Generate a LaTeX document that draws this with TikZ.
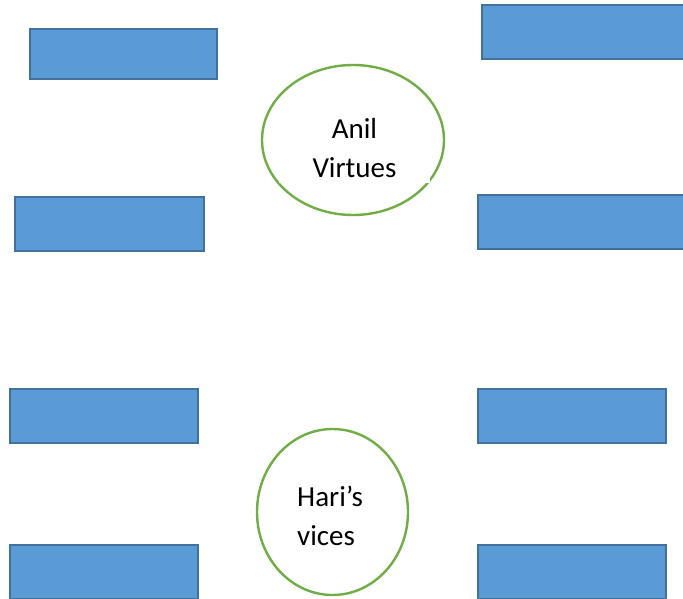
\documentclass[tikz,border=0pt]{standalone}
\usepackage{fontspec}
\setmainfont{Carlito}
\usetikzlibrary{shapes.geometric}
\definecolor{boxfill}{HTML}{5B9BD5}
\definecolor{boxline}{HTML}{41719C}
\definecolor{ovline}{HTML}{70AD47}
\tikzset{
  bluebox/.style={draw=boxline, fill=boxfill, line width=2pt, inner sep=0pt, anchor=north west},
  oval/.style={ellipse, draw=ovline, fill=white, line width=2.4pt, inner sep=0pt},
  lbl/.style={font=\fontsize{29}{39}\selectfont, text=black, inner sep=0pt}
}
\begin{document}
\begin{tikzpicture}[x=1pt,y=-1pt]
\useasboundingbox (0,0) rectangle (683,599);
\clip (0,0) rectangle (683,599);
\fill[white] (0,0) rectangle (683,599);
% rectangles
\node[bluebox, minimum width=187pt, minimum height=50pt] (a) at (29,28) {};
\node[bluebox, minimum width=209pt, minimum height=54pt] (b) at (481,4) {};
\node[bluebox, minimum width=189pt, minimum height=54pt] (c) at (14,196) {};
\node[bluebox, minimum width=213pt, minimum height=54pt] (d) at (477,194) {};
\node[bluebox, minimum width=188pt, minimum height=54pt] (e) at (9,388) {};
\node[bluebox, minimum width=188pt, minimum height=54pt] (f) at (477,388) {};
\node[bluebox, minimum width=188pt, minimum height=54pt] (g) at (9,544) {};
\node[bluebox, minimum width=188pt, minimum height=54pt] (h) at (477,544) {};
% top ellipse
\node[oval, minimum width=182pt, minimum height=150pt] (anil) at (353,140) {};
\fill[white] (279,102) rectangle (430,183);
\node[lbl, align=center] (anilt) at (354.5,148) {Anil\\Virtues};
% bottom ellipse
\node[oval, minimum width=151pt, minimum height=166pt] (hari) at (332.5,512) {};
\node[lbl, align=left, anchor=west] (harit) at (297,516) {Hari’s\\vices};
\end{tikzpicture}
\end{document}
